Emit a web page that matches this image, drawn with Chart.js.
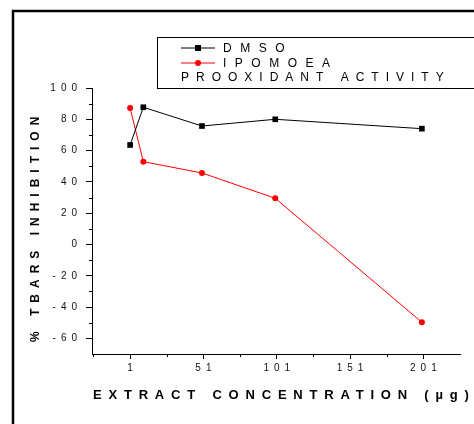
<!DOCTYPE html>
<html>
<head>
<meta charset="utf-8">
<script src="https://cdn.jsdelivr.net/npm/chart.js@4"></script>
<style>
  html, body { margin: 0; padding: 0; background: #fff; }
  #wrap { width: 474px; height: 424px; position: relative; }
</style>
</head>
<body>
<div id="wrap"><canvas id="myChart" width="474" height="424"></canvas></div>
<script>
// data
var concentrations = [1, 10, 50, 100, 200];
var dmsoValues = [63.6, 87.7, 75.7, 80.0, 74.0];
var ipomoeaValues = [87.2, 52.9, 45.7, 29.5, -49.7];
var xTickValues = [1, 51, 101, 151, 201];
var xMinorTicks = [-24, 26, 76, 126, 176];
var yTickValues = [-60, -40, -20, 0, 20, 40, 60, 80, 100];
var yMinorTicks = [-50, -30, -10, 10, 30, 50, 70, 90];
var seriesNames = ["DMSO", "IPOMOEA"];
var legendNote = "PROOXIDANT ACTIVITY";
var xTitle = "EXTRACT CONCENTRATION (\u00b5g)";
var yTitle = "% TBARS INHIBITION";

window.onload = function () {
  function makePoints(values) {
    var pts = [];
    for (var i = 0; i < concentrations.length; i++) {
      pts.push({ x: concentrations[i], y: values[i] });
    }
    return pts;
  }

  // spread the digits out like the original
  function spaced(v) {
    return String(v).split("").join("\u2002");
  }

  function spacedText(ctx, text, x, y, spacing) {
    ctx.letterSpacing = spacing + "px";
    ctx.fillText(text, x, y);
    ctx.letterSpacing = "0px";
  }

  // frame, legend, minor ticks and axis titles
  var decorPlugin = {
    id: "decor",
    afterDraw: function (chart) {
      var ctx = chart.ctx;
      var xs = chart.scales.x;
      var ys = chart.scales.y;
      ctx.save();

      // minor ticks
      ctx.strokeStyle = "#000";
      ctx.lineWidth = 1;
      ctx.beginPath();
      for (var i = 0; i < yMinorTicks.length; i++) {
        var py = Math.round(ys.getPixelForValue(yMinorTicks[i])) + 0.5;
        ctx.moveTo(xs.left - 3, py);
        ctx.lineTo(xs.left, py);
      }
      for (var j = 0; j < xMinorTicks.length; j++) {
        var px = Math.round(xs.getPixelForValue(xMinorTicks[j])) + 0.5;
        ctx.moveTo(px, ys.bottom);
        ctx.lineTo(px, ys.bottom + 3);
      }
      ctx.stroke();

      // outer frame
      ctx.lineWidth = 2.5;
      ctx.strokeRect(13, 11, 520, 480);

      // legend box
      ctx.lineWidth = 1;
      ctx.strokeRect(157.5, 37.5, 360, 51);
      ctx.fillStyle = "#000";
      ctx.font = "12px 'Liberation Sans', Arial, sans-serif";
      ctx.textBaseline = "middle";
      ctx.textAlign = "left";
      var rows = [47.5, 62.5];
      var colors = ["#000", "#ff0000"];
      for (var k = 0; k < 2; k++) {
        ctx.strokeStyle = colors[k];
        ctx.beginPath();
        ctx.moveTo(181, rows[k] + 0.5);
        ctx.lineTo(215, rows[k] + 0.5);
        ctx.stroke();
        ctx.fillStyle = colors[k];
        if (k === 0) {
          ctx.fillRect(195, rows[k] - 2.5, 6, 6);
        } else {
          ctx.beginPath();
          ctx.arc(198, rows[k] + 0.5, 3, 0, Math.PI * 2);
          ctx.fill();
        }
        ctx.fillStyle = "#000";
        spacedText(ctx, seriesNames[k], 223, rows[k] + 1, 8.5);
      }
      spacedText(ctx, legendNote, 181, 78, 7);

      // axis titles
      ctx.font = "bold 13px 'Liberation Sans', Arial, sans-serif";
      spacedText(ctx, xTitle, 93, 395, 6.8);
      ctx.translate(36, 342);
      ctx.rotate(-Math.PI / 2);
      ctx.font = "bold 12px 'Liberation Sans', Arial, sans-serif";
      spacedText(ctx, yTitle, 0, 0, 6);
      ctx.restore();
    },
  };

  var ctx = document.getElementById("myChart").getContext("2d");
  var myChart = new Chart(ctx, {
    type: "scatter",
    data: {
      datasets: [
        {
          label: seriesNames[0],
          data: makePoints(dmsoValues),
          showLine: true,
          borderColor: "#000",
          backgroundColor: "#000",
          borderWidth: 1,
          pointStyle: "rect",
          pointRadius: 4,
          pointBorderWidth: 0,
        },
        {
          label: seriesNames[1],
          data: makePoints(ipomoeaValues),
          showLine: true,
          borderColor: "#ff0000",
          backgroundColor: "#ff0000",
          borderWidth: 1,
          pointStyle: "circle",
          pointRadius: 3,
          pointBorderWidth: 0,
        },
      ],
    },
    options: {
      responsive: false,
      animation: false,
      layout: { padding: { top: 88, left: 0, right: 14, bottom: 0 } },
      plugins: {
        legend: { display: false },
        tooltip: { enabled: false },
      },
      scales: {
        x: {
          type: "linear",
          min: -25,
          max: 226,
          afterBuildTicks: function (scale) {
            scale.ticks = xTickValues.map(function (v) { return { value: v }; });
          },
          afterFit: function (scale) {
            scale.height = 70;
          },
          grid: {
            drawOnChartArea: false,
            drawTicks: true,
            tickLength: 5,
            tickColor: "#000",
          },
          border: { color: "#000", width: 1 },
          ticks: {
            color: "#111",
            padding: 3,
            maxRotation: 0,
            font: { family: "'Liberation Sans', Arial, sans-serif", size: 10 },
            callback: function (v) { return spaced(v); },
          },
        },
        y: {
          min: -70,
          max: 100,
          afterBuildTicks: function (scale) {
            scale.ticks = yTickValues.map(function (v) { return { value: v }; });
          },
          afterFit: function (scale) {
            scale.width = 92;
          },
          grid: {
            drawOnChartArea: false,
            drawTicks: true,
            tickLength: 6,
            tickColor: "#000",
          },
          border: { color: "#000", width: 1 },
          ticks: {
            color: "#111",
            padding: 9,
            font: { family: "'Liberation Sans', Arial, sans-serif", size: 10 },
            callback: function (v) { return spaced(v); },
          },
        },
      },
    },
    plugins: [decorPlugin],
  });
};
</script>
</body>
</html>
